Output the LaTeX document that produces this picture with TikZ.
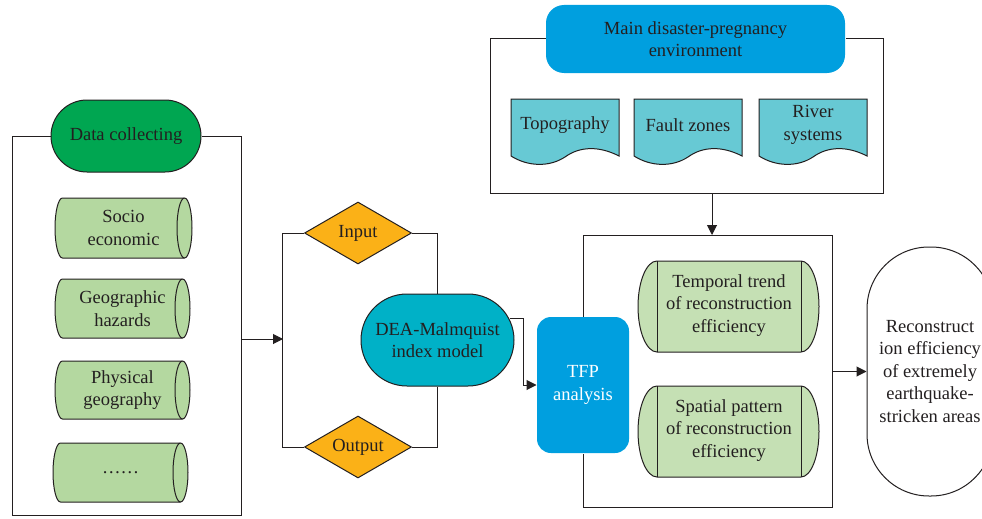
\documentclass[tikz,border=0pt]{standalone}
\usepackage{fontspec}
\setmainfont{Liberation Serif}
\usetikzlibrary{shapes.geometric,shapes.misc,arrows.meta,calc}
\definecolor{txt}{HTML}{231F20}
\definecolor{linec}{HTML}{231F20}
\definecolor{dcgreen}{HTML}{00A651}
\definecolor{cylgreen}{HTML}{B4D8A0}
\definecolor{tgreen}{HTML}{C5E0B4}
\definecolor{orangey}{HTML}{FBB117}
\definecolor{deacyan}{HTML}{00B1C7}
\definecolor{tfpblue}{HTML}{009FDF}
\definecolor{envblue}{HTML}{009FDF}
\definecolor{docteal}{HTML}{67C9D4}
\newcommand\hcyl[6]{%
  \draw[fill=cylgreen] ({#2-#4/2+7.5},{#3-#5/2}) -- ({#2+#4/2-7.5},{#3-#5/2})
    arc[start angle=270,end angle=450,x radius=7.5,y radius={#5/2}]
    -- ({#2-#4/2+7.5},{#3+#5/2})
    arc[start angle=90,end angle=270,x radius=7.5,y radius={#5/2}] -- cycle;
  \draw ({#2+#4/2-7.5},{#3-#5/2}) arc[start angle=270,end angle=90,x radius=7.5,y radius={#5/2}];
  \node (#1) at (#2,#3) {#6};
}
\newcommand\docshape[6]{%
  \draw[fill=docteal] (#2,#4) -- (#3,#4) -- (#3,#5)
    .. controls ({#3-0.18*(#3-#2)},{#5-10}) and ({#3-0.36*(#3-#2)},{#5-10}) .. ({(#2+#3)/2},{#5+1})
    .. controls ({#2+0.36*(#3-#2)},{#5+11}) and ({#2+0.16*(#3-#2)},{#5+11}) .. (#2,#5) -- cycle;
  \node (#1) at ({(#2+#3)/2},125) {#6};
}
\begin{document}
\begin{tikzpicture}[x=1pt,y=-1pt,line width=1pt,draw=linec,
  every node/.style={font=\fontsize{18.5}{22.5}\selectfont,text=txt,align=center,inner sep=0pt},
  arr/.style={-{Triangle[length=10pt,width=10pt]}},
  stadium/.style={rounded rectangle,draw=linec,line width=1pt},
  dia/.style={diamond,draw=linec,line width=1pt,fill=orangey,minimum width=107pt,minimum height=62pt,aspect=1.7}]
\useasboundingbox (0,0) rectangle (982,519);

% ---- left group ----
\node[stadium,fill=dcgreen,minimum width=150pt,minimum height=72pt] (dc) at (126,136) {Data collecting};
\coordinate (lf1) at (12,515);
\coordinate (lf2) at (241,515);
\draw (dc.west) -| (lf1) -- (lf2) |- (dc.east);
\hcyl{soc}{123.5}{228}{137}{60}{Socio\\economic}
\hcyl{geo}{122.5}{308.5}{135}{59}{Geographic\\hazards}
\hcyl{phy}{122.5}{390}{135}{58}{Physical\\geography}
\hcyl{dots}{120.5}{472.5}{135}{59}{……}

\coordinate (mg) at (283,339);
\draw[arr] (lf2 |- mg) -- (mg);

% ---- middle group ----
\node[dia] (inp) at (358,233) {Input};
\node[dia] (outp) at (358,447) {Output};
\node[stadium,fill=deacyan,minimum width=153pt,minimum height=92pt] (dea) at (437.5,340) {DEA-Malmquist\\index model};
\draw (inp.west) -- ++(-22,0) |- (outp.west);
\draw (inp.east) -| (dea.north);
\draw (dea.south) |- (outp.east);

% ---- TFP and right group ----
\node[rectangle,rounded corners=14pt,fill=tfpblue,minimum width=92pt,minimum height=136pt,text=white] (tfp) at (583,385) {TFP\\analysis};
\coordinate (rb1) at (832,235);
\coordinate (rb2) at (832,507);
\draw (tfp.north) |- (rb1) -- (rb2) -| (tfp.south);
\coordinate (ds) at ($(dea.center)+(72,-22)$);
\draw[arr] (ds) -| ($(tfp.west)+(-13,0)$) -- (tfp.west);

\draw[fill=tgreen] (657,261) -- (801,261) arc[start angle=270,end angle=450,x radius=18,y radius=45.5]
  -- (657,352) arc[start angle=90,end angle=270,x radius=19,y radius=45.5] -- cycle;
\draw (657,261) -- (657,352) (801,261) -- (801,352);
\node (tt) at (729,305.5) {Temporal trend\\of reconstruction\\efficiency};

\draw[fill=tgreen] (657,386) -- (801,386) arc[start angle=270,end angle=450,x radius=18,y radius=45.5]
  -- (657,477) arc[start angle=90,end angle=270,x radius=19,y radius=45.5] -- cycle;
\draw (657,386) -- (657,477) (801,386) -- (801,477);
\node (sp) at (729,430.5) {Spatial pattern\\of reconstruction\\efficiency};

\node[rectangle,draw=linec,rounded corners=62pt,minimum width=126pt,minimum height=249pt,fill=white] (fin) at (930,371.5) {Reconstruct\\ion efficiency\\of extremely\\earthquake-\\stricken areas};
\draw[arr] (rb1 |- fin.west) -- (fin.west);

% ---- environment group ----
\coordinate (eb1) at (490,193);
\coordinate (eb2) at (883,193);
\node[rectangle,rounded corners=18pt,fill=envblue,minimum width=299pt,minimum height=68pt] (env) at (695.5,39) {Main disaster-pregnancy\\environment};
\draw (env.west) -| (eb1) -- (eb2) |- (env.east);
\docshape{topo}{511}{619}{99}{156}{Topography}
\docshape{fault}{634}{742}{99}{156}{Fault zones}
\docshape{river}{759}{867}{99}{156}{River\\systems}
\coordinate (ea) at (712,193);
\coordinate (rt) at (712,235);
\draw[arr] (ea) -- (rt);
\end{tikzpicture}
\end{document}
